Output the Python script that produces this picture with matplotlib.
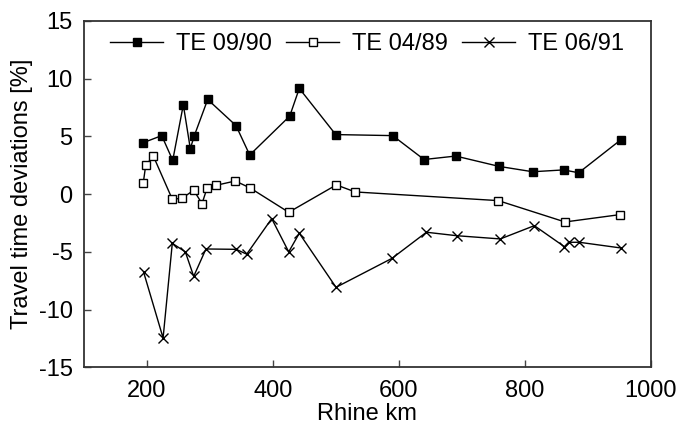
import matplotlib
matplotlib.use("Agg")
import matplotlib.pyplot as plt

plt.rcParams['font.family'] = ['Liberation Sans', 'DejaVu Sans']
plt.rcParams['axes.unicode_minus'] = False

# Travel time deviations along the Rhine for three tracer experiments
km_0990 = [194.6, 223.8, 241.3, 258.1, 269.2, 275.6, 296.8, 341.7, 363.5, 427.0,
           442.2, 500.0, 590.5, 640.2, 690.5, 759.7, 812.7, 861.9, 885.7, 952.4]
dev_0990 = [4.46, 5.07, 2.93, 7.74, 3.94, 5.07, 8.2, 5.94, 3.39, 6.76,
            9.16, 5.16, 5.07, 3.0, 3.3, 2.4, 1.94, 2.1, 1.85, 4.7]

km_0489 = [194.6, 198.4, 210.5, 240.6, 256.0, 274.6, 287.8, 295.7, 310.5, 340.6,
           364.0, 425.4, 501.0, 531.0, 758.0, 864.0, 951.7]
dev_0489 = [1.0, 2.5, 3.3, -0.44, -0.36, 0.34, -0.82, 0.51, 0.77, 1.14,
            0.54, -1.57, 0.8, 0.19, -0.56, -2.41, -1.77]

km_0691 = [195.0, 226.0, 240.6, 261.3, 274.6, 294.0, 342.0, 358.7, 398.4, 425.4,
           442.2, 500.5, 589.4, 644.0, 692.0, 761.3, 815.3, 863.0, 869.8, 886.7, 952.4]
dev_0691 = [-6.74, -12.46, -4.26, -5.0, -7.12, -4.75, -4.78, -5.2, -2.12, -5.0,
            -3.39, -8.07, -5.56, -3.3, -3.6, -3.88, -2.73, -4.55, -4.17, -4.17, -4.66]

x_ticks = [200, 400, 600, 800, 1000]
y_ticks = [-15, -10, -5, 0, 5, 10, 15]

FS = 17

fig = plt.figure(figsize=(6.79, 4.30), dpi=100)
ax = fig.add_axes([0.1233, 0.1458, 0.835, 0.8054])

ax.plot(km_0990, dev_0990, color='black', lw=1.0, marker='s', ms=6,
        mfc='black', mec='black', label='TE 09/90')
ax.plot(km_0489, dev_0489, color='black', lw=1.0, marker='s', ms=6,
        mfc='white', mec='black', mew=1.0, label='TE 04/89')
ax.plot(km_0691, dev_0691, color='black', lw=1.0, marker='x', ms=6.5,
        mew=1.0, label='TE 06/91')

ax.set_xlim(100, 1000)
ax.set_ylim(-15, 15)
ax.set_xticks(x_ticks)
ax.set_yticks(y_ticks)
ax.tick_params(direction='in', length=5, width=1.0, labelsize=FS,
               color='#444444')
ax.tick_params(axis='x', top=False, pad=9)
ax.tick_params(axis='y', right=False, pad=8)
for s in ax.spines.values():
    s.set_linewidth(1.3)
    s.set_color('#333333')

ax.set_xlabel('Rhine km', fontsize=FS, labelpad=1)
ax.set_ylabel('Travel time deviations [%]', fontsize=FS, labelpad=4)

ax.legend(loc='upper center', ncol=3, frameon=False, fontsize=FS,
          handlelength=2.25, columnspacing=0.6, handletextpad=0.55,
          bbox_to_anchor=(0.5, 1.0), borderaxespad=0.1)

fig.savefig('out.png', dpi=100)
